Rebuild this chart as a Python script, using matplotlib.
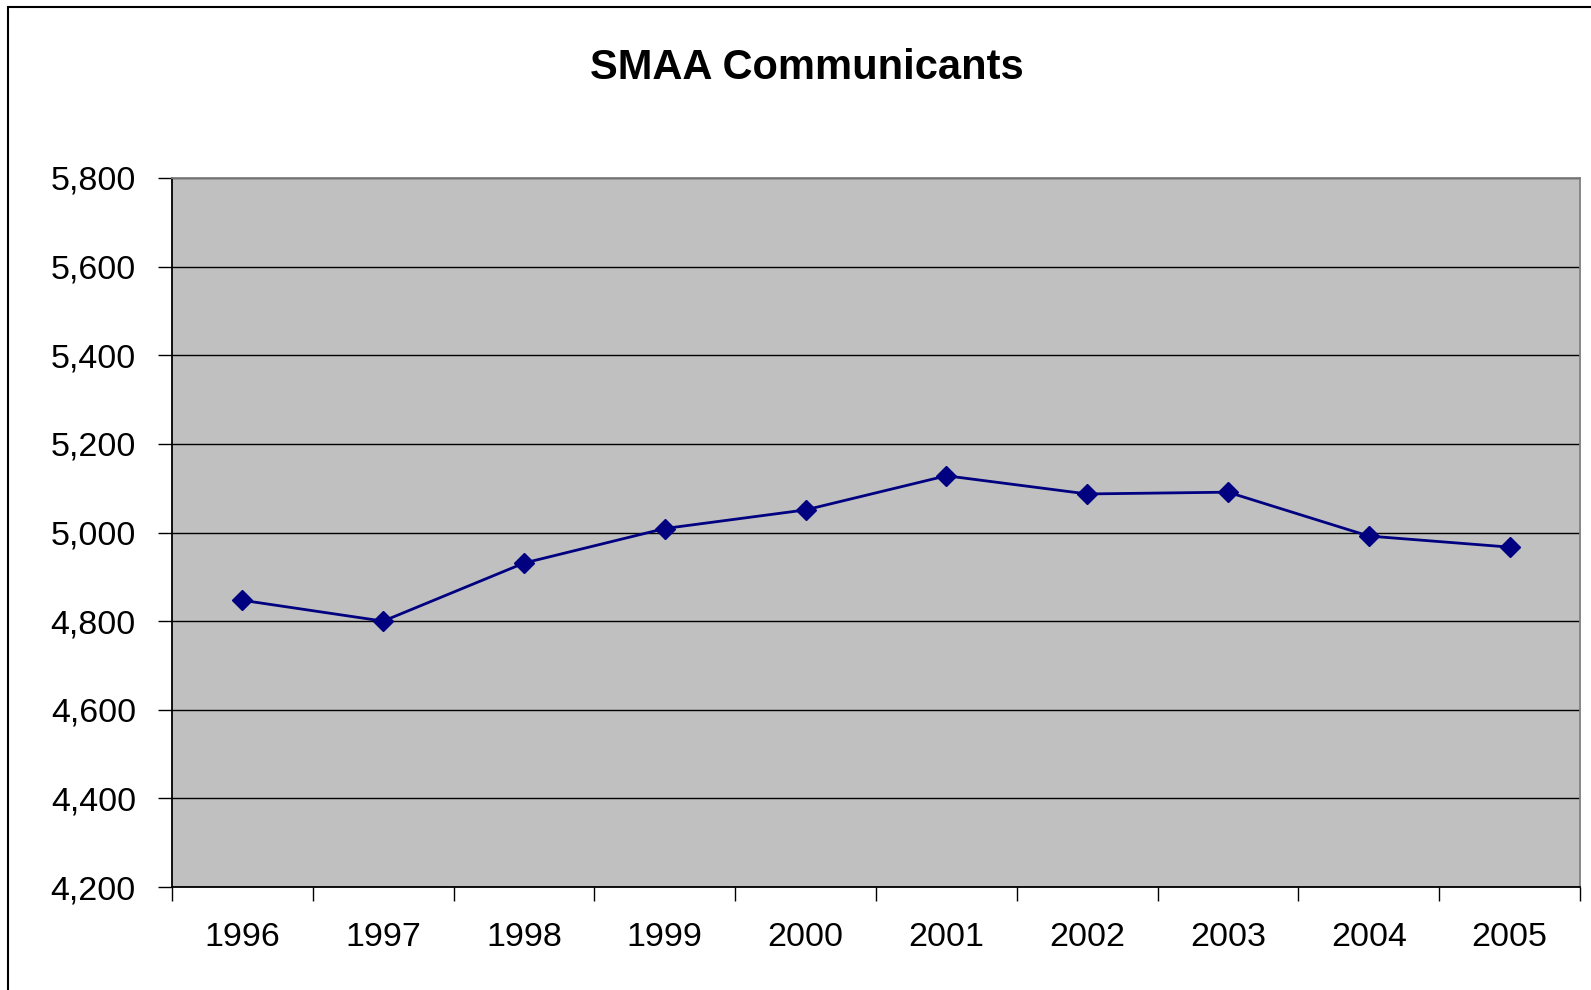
import matplotlib
matplotlib.use('Agg')
import matplotlib.pyplot as plt
from matplotlib.patches import Rectangle
from matplotlib.ticker import FuncFormatter

# Данные
years = ['1996', '1997', '1998', '1999', '2000', '2001', '2002', '2003', '2004', '2005']
communicants = [4847, 4800, 4931, 5009, 5051, 5128, 5087, 5091, 4992, 4967]
y_ticks = [4200, 4400, 4600, 4800, 5000, 5200, 5400, 5600, 5800]

plt.rcParams['font.family'] = ['Liberation Sans', 'DejaVu Sans']

fig = plt.figure(figsize=(15.91, 9.90), dpi=100)
ax = fig.add_axes([172 / 1591, 1 - 887 / 990, (1580 - 172) / 1591, (887 - 178) / 990])

# рамка вокруг всей диаграммы
fig.patches.append(Rectangle((8 / 1591, -0.1), 1.2, 1 - 7 / 990 + 0.1, transform=fig.transFigure,
                             fill=False, edgecolor='black', linewidth=1.5))

ax.set_facecolor('#C0C0C0')
x = list(range(len(years)))
ax.plot(x, communicants, color='#000080', linewidth=2, marker='D', markersize=10.5, zorder=3)

ax.set_xlim(-0.5, len(years) - 0.5)
ax.set_ylim(4200, 5800)
ax.set_yticks(y_ticks)
ax.yaxis.set_major_formatter(FuncFormatter(lambda v, p: f'{int(v):,}'))
ax.set_xticks(x)
ax.set_xticklabels(years)
ax.set_xticks([i - 0.5 for i in range(len(years) + 1)], minor=True)

ax.grid(True, axis='y', color='black', linewidth=1)
ax.set_axisbelow(True)

ax.tick_params(axis='y', direction='out', length=10, width=1, pad=16, labelsize=24.5)
ax.tick_params(axis='x', which='major', length=0, pad=25, labelsize=24.5)
ax.tick_params(axis='x', which='minor', direction='out', length=10, width=1)

for s in ['left', 'bottom']:
    ax.spines[s].set_color('black')
    ax.spines[s].set_linewidth(1.3)
for s in ['top', 'right']:
    ax.spines[s].set_color('#808080')
    ax.spines[s].set_linewidth(1.3)

fig.text(807 / 1591, 1 - 68 / 990, 'SMAA Communicants', ha='center', va='center',
         fontsize=30, fontweight='bold')

fig.savefig('out.png', dpi=100)
